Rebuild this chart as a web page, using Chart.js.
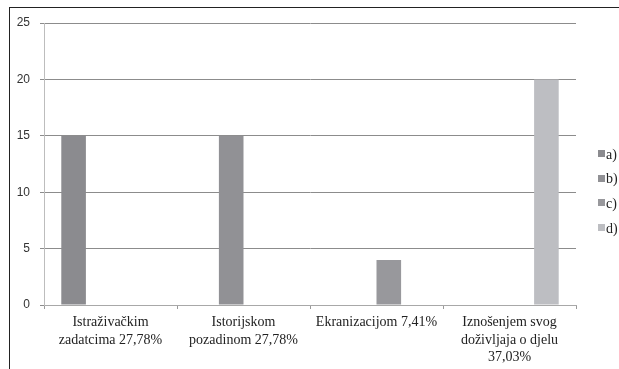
<!DOCTYPE html>
<html>
<head>
<meta charset="utf-8">
<script src="https://cdn.jsdelivr.net/npm/chart.js@4/dist/chart.umd.min.js"></script>
<style>
  html, body { margin: 0; padding: 0; background: #fff; }
  #wrap { position: relative; width: 619px; height: 369px; overflow: hidden; }
  #frame { position: absolute; left: 9px; top: 7px; right: -2px; bottom: -2px;
           border-top: 1px solid #222; border-left: 1px solid #222; pointer-events: none; }
  canvas { position: absolute; left: 0; top: 0; }
</style>
</head>
<body>
<div id="wrap">
  <canvas id="c" width="619" height="369"></canvas>
  <div id="frame"></div>
</div>
<script>
// Answer categories (multi-line axis labels)
const categories = [
  ['Istraživačkim', 'zadatcima 27,78%'],
  ['Istorijskom', 'pozadinom 27,78%'],
  ['Ekranizacijom 7,41%'],
  ['Iznošenjem svog', 'doživljaja o djelu', '37,03%']
];
const seriesNames = ['a)', 'b)', 'c)', 'd)'];
const seriesA = [15, 0, 0, 0];
const seriesB = [0, 15, 0, 0];
const seriesC = [0, 0, 4, 0];
const seriesD = [0, 0, 0, 20];
const yTicks = [0, 5, 10, 15, 20, 25];

const seriesColors = ['#8b8b8f', '#919195', '#98989c', '#bdbec2'];
const seriesValues = [seriesA, seriesB, seriesC, seriesD];

const serifFamily = "'Liberation Serif', 'Times New Roman', Times, serif";

// Legend drawn on the canvas at the right edge
const sideLegend = {
  id: 'sideLegend',
  afterDraw(chart) {
    const ctx = chart.ctx;
    ctx.save();
    ctx.font = '14px ' + serifFamily;
    ctx.textBaseline = 'middle';
    chart.data.datasets.forEach((ds, i) => {
      const y = 154 + i * 24.7;
      ctx.fillStyle = ds.backgroundColor;
      ctx.fillRect(598, Math.round(y - 4), 7, 7);
      ctx.fillStyle = '#222';
      ctx.fillText(ds.label, 606, y + 1);
    });
    ctx.restore();
  }
};

new Chart(document.getElementById('c'), {
  type: 'bar',
  data: {
    labels: categories,
    datasets: seriesNames.map((name, i) => ({
      label: name,
      data: seriesValues[i],
      backgroundColor: seriesColors[i],
      borderWidth: 0,
      categoryPercentage: 0.74,
      barPercentage: 1.0
    }))
  },
  options: {
    responsive: false,
    animation: false,
    devicePixelRatio: 1,
    layout: { padding: { top: 23, right: 43, left: 0, bottom: 0 } },
    plugins: {
      legend: { display: false },
      tooltip: { enabled: false }
    },
    scales: {
      x: {
        afterFit(s) { s.height = 64; },
        grid: {
          offset: true,
          drawOnChartArea: false,
          drawTicks: true,
          tickLength: 4,
          color: '#9a9a9a'
        },
        border: { color: '#a8a8a8', width: 1 },
        ticks: {
          padding: 5,
          maxRotation: 0,
          autoSkip: false,
          color: '#222',
          font: { family: serifFamily, size: 14, lineHeight: 1.25 }
        }
      },
      y: {
        min: 0,
        max: 25,
        afterFit(s) { s.width = 44; },
        afterBuildTicks(s) { s.ticks = yTicks.map(v => ({ value: v })); },
        grid: {
          color: '#8c8c8c',
          tickLength: 4,
          drawTicks: true
        },
        border: { color: '#bdbdbd', width: 1 },
        ticks: {
          padding: 10,
          color: '#333',
          font: { family: "'Liberation Sans', Arial, sans-serif", size: 12 }
        }
      }
    }
  },
  plugins: [sideLegend]
});
</script>
</body>
</html>
